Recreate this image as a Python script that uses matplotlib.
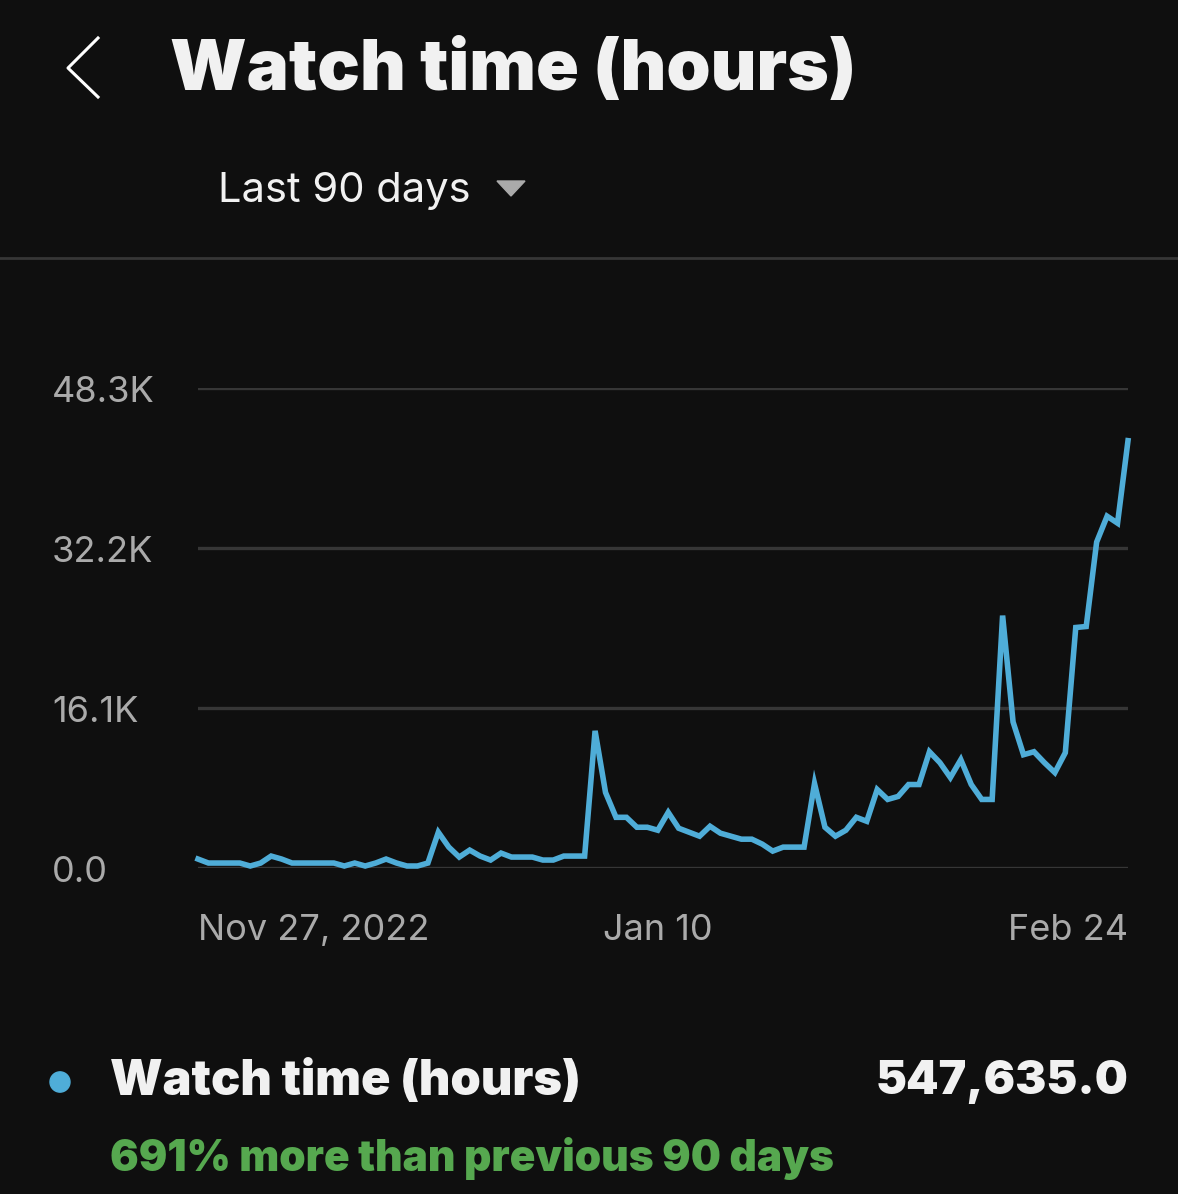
import numpy as np
import matplotlib
matplotlib.use("Agg")
import matplotlib.pyplot as plt
from matplotlib.lines import Line2D

# ── Data ───────────────────────────────────────────────────────
watch_hours = [
    900, 500, 500, 500, 500, 200, 500, 1200, 900, 500,
    500, 500, 500, 500, 200, 500, 200, 500, 900, 500,
    200, 200, 500, 3600, 2100, 1100, 1800, 1200, 800, 1500,
    1100, 1100, 1100, 800, 800, 1200, 1200, 1200, 13800, 7600,
    5100, 5100, 4100, 4100, 3800, 5600, 4000, 3600, 3200, 4200,
    3500, 3200, 2900, 2900, 2400, 1700, 2100, 2100, 2100, 8500,
    4100, 3200, 3800, 5100, 4700, 7900, 6900, 7200, 8400, 8400,
    11700, 10600, 9100, 10900, 8400, 6900, 6900, 25400, 14700, 11400,
    11700, 10600, 9600, 11600, 24200, 24300, 32800, 35400, 34700, 43000,
]
y_ticks = [0, 16100, 32200, 48300]
y_tick_labels = ["0.0", "16.1K", "32.2K", "48.3K"]
x_tick_idx = [0, 44, 89]
x_tick_labels = ["Nov 27, 2022", "Jan 10", "Feb 24"]

BG = "#0f0f0f"
GRID = "#363636"
LINE = "#4fadd8"
GREY = "#aaaaaa"
GREEN = "#56a84f"

W, H = 1178, 1194
fig = plt.figure(figsize=(W / 100, H / 100), dpi=100, facecolor=BG)
plt.rcParams["font.family"] = ["Inter", "DejaVu Sans"]


def fx(px):
    return px / W


def fy(py):
    return 1 - py / H


# ── Header ─────────────────────────────────────────────────────
fig.add_artist(Line2D([fx(98), fx(68), fx(98)], [fy(38), fy(68), fy(97)],
                      color="white", lw=2.2))
fig.text(fx(170), fy(72), "Watch time (hours)", color="#f1f1f1",
         fontsize=51, fontweight="black", va="center", ha="left")
fig.text(fx(218), fy(191), "Last 90 days", color="#f1f1f1",
         fontsize=30, va="center", ha="left")
fig.add_artist(plt.Polygon([(fx(497), fy(181)), (fx(525), fy(181)), (fx(511), fy(196))],
                           closed=True, color="#aaaaaa", transform=fig.transFigure))
fig.add_artist(Line2D([0, 1], [fy(258), fy(258)], color=GRID, lw=2))

# ── Chart ──────────────────────────────────────────────────────
ax = fig.add_axes([fx(198), fy(868), fx(1128) - fx(198), fy(388) - fy(868)])
ax.set_facecolor(BG)
x = np.arange(len(watch_hours))
for t in y_ticks:
    ax.axhline(t, color=GRID, lw=2.4, zorder=1)
ax.plot(x, watch_hours, color=LINE, lw=4.0, solid_joinstyle="miter",
        zorder=3, clip_on=False)
ax.set_xlim(0, len(watch_hours) - 1)
ax.set_ylim(0, 48300)
ax.set_xticks([])
ax.set_yticks([])
for s in ax.spines.values():
    s.set_visible(False)

for t, lab in zip(y_ticks, y_tick_labels):
    ax.text(-0.157, t - 500, lab, transform=ax.get_yaxis_transform(),
            color=GREY, fontsize=26, va="center", ha="left")

aligns = ["left", "center", "right"]
for i, lab, al in zip(x_tick_idx, x_tick_labels, aligns):
    ax.text(i, -0.13, lab, transform=ax.get_xaxis_transform(),
            color=GREY, fontsize=26, va="center", ha=al)

# ── Legend / summary ───────────────────────────────────────────
fig.add_artist(plt.Circle((fx(60), fy(1082)), 10 / W, color=LINE,
                          transform=fig.transFigure))
fig.text(fx(110), fy(1082), "Watch time (hours)", color="#f1f1f1",
         fontsize=35, fontweight="black", va="center", ha="left")
fig.text(fx(1129), fy(1082), "547,635.0", color="#f1f1f1",
         fontsize=33.5, fontweight="black", va="center", ha="right")
fig.text(fx(110), fy(1158), "691% more than previous 90 days", color=GREEN,
         fontsize=30.5, fontweight="black", va="center", ha="left")

fig.savefig("out.png", dpi=100, facecolor=BG)
